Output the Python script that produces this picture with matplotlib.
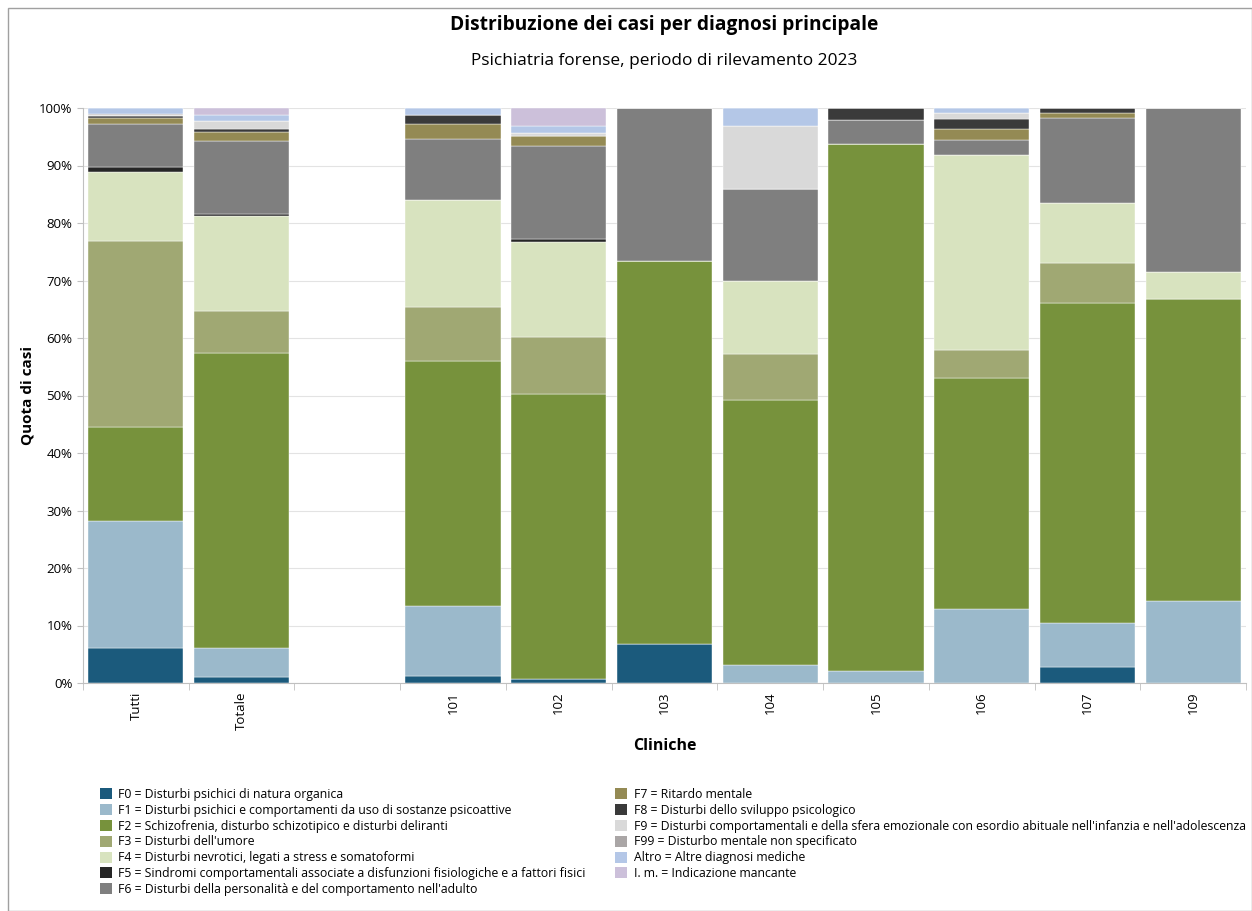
import matplotlib
matplotlib.use("Agg")
import matplotlib.pyplot as plt
from matplotlib.patches import Patch, Rectangle
from matplotlib.ticker import PercentFormatter, MultipleLocator, FixedLocator

plt.rcParams['font.family'] = ['Open Sans', 'DejaVu Sans']

categories = ["Tutti", "Totale", "", "101", "102", "103", "104", "105", "106", "107", "109"]

# quota di casi (%) per diagnosi, una voce per clinica
F0 = [6.1, 1.0, 0, 1.3, 0.7, 6.7, 0, 0, 0, 2.7, 0]
F1 = [22.1, 5.1, 0, 12.1, 0, 0, 3.2, 2.1, 12.9, 7.7, 14.3]
F2 = [16.3, 51.3, 0, 42.6, 49.6, 66.7, 46.0, 91.6, 40.1, 55.7, 52.4]
F3 = [32.4, 7.3, 0, 9.4, 9.9, 0, 8.0, 0, 4.9, 6.9, 0]
F4 = [11.9, 16.5, 0, 18.6, 16.5, 0, 12.7, 0, 33.9, 10.5, 4.8]
F5 = [1.0, 0.3, 0, 0, 0.5, 0, 0, 0, 0, 0, 0]
F6 = [7.4, 12.8, 0, 10.6, 16.2, 26.6, 16.0, 4.2, 2.6, 14.8, 28.5]
F7 = [1.0, 1.5, 0, 2.7, 1.7, 0, 0, 0, 1.9, 0.9, 0]
F8 = [0.4, 0.6, 0, 1.4, 0, 0, 0, 2.1, 1.8, 0.8, 0]
F9 = [0.2, 1.4, 0, 0, 0.6, 0, 11.0, 0, 1.1, 0, 0]
F99 = [0.2, 0, 0, 0, 0, 0, 0, 0, 0, 0, 0]
Altro = [1.0, 1.0, 0, 1.3, 1.1, 0, 3.1, 0, 0.8, 0, 0]
Im = [0, 1.2, 0, 0, 3.2, 0, 0, 0, 0, 0, 0]

series = [F0, F1, F2, F3, F4, F5, F6, F7, F8, F9, F99, Altro, Im]
labels = [
    "F0 = Disturbi psichici di natura organica",
    "F1 = Disturbi psichici e comportamenti da uso di sostanze psicoattive",
    "F2 = Schizofrenia, disturbo schizotipico e disturbi deliranti",
    "F3 = Disturbi dell'umore",
    "F4 = Disturbi nevrotici, legati a stress e somatoformi",
    "F5 = Sindromi comportamentali associate a disfunzioni fisiologiche e a fattori fisici",
    "F6 = Disturbi della personalità e del comportamento nell'adulto",
    "F7 = Ritardo mentale",
    "F8 = Disturbi dello sviluppo psicologico",
    "F9 = Disturbi comportamentali e della sfera emozionale con esordio abituale nell'infanzia e nell'adolescenza",
    "F99 = Disturbo mentale non specificato",
    "Altro = Altre diagnosi mediche",
    "I. m. = Indicazione mancante",
]
colors = ["#1b5a7c", "#9bb9cb", "#77923c", "#a0a873", "#d8e3bf", "#262626", "#7f7f7f",
          "#948a54", "#3a3a3a", "#d9d9d9", "#aaa6a6", "#b4c7e7", "#ccc0da"]

fig = plt.figure(figsize=(12.52, 9.11), dpi=100)
ax = fig.add_axes([83 / 1252, 1 - 683 / 911, (1246 - 83) / 1252, (683 - 108) / 911])

x = list(range(len(categories)))
bottom = [0.0] * len(categories)
for vals, col in zip(series, colors):
    ax.bar(x, vals, bottom=bottom, width=0.9, color=col, edgecolor="#ffffff", linewidth=0.3)
    bottom = [b + v for b, v in zip(bottom, vals)]

ax.set_xlim(-0.5, len(categories) - 0.5)
ax.set_ylim(0, 100)
ax.yaxis.set_major_locator(MultipleLocator(10))
ax.yaxis.set_major_formatter(PercentFormatter(decimals=0))
ax.set_xticks(x)
ax.set_xticklabels(categories, rotation=90, fontsize=9.5)
ax.xaxis.set_minor_locator(FixedLocator([i - 0.5 for i in range(len(categories) + 1)]))
ax.tick_params(axis="x", which="major", length=0, pad=6)
ax.tick_params(axis="x", which="minor", length=5, color="#c0c0c0")
ax.tick_params(axis="y", length=4, color="#c0c0c0", labelsize=9.5)
ax.grid(axis="y", color="#e3e3e3", linewidth=0.8)
ax.set_axisbelow(True)
for s in ["top", "right"]:
    ax.spines[s].set_visible(False)
for s in ["left", "bottom"]:
    ax.spines[s].set_color("#c0c0c0")

fig.text(0.5307, 1 - 25 / 911, "Distribuzione dei casi per diagnosi principale",
         ha="center", va="center", fontsize=13.8, fontweight="bold")
fig.text(0.5307, 1 - 61 / 911, "Psichiatria forense, periodo di rilevamento 2023",
         ha="center", va="center", fontsize=12.4)
fig.text(28 / 1252, 1 - 395 / 911, "Quota di casi", rotation=90,
         ha="center", va="center", fontsize=11, fontweight="bold")
fig.text(0.5307, 1 - 746 / 911, "Cliniche", ha="center", va="center",
         fontsize=11.5, fontweight="bold")

handles = [Patch(facecolor=c, edgecolor="none") for c in colors]
fig.legend(handles, labels, loc="upper left", bbox_to_anchor=(100 / 1252, 1 - 788 / 911),
           ncol=2, frameon=False, fontsize=8.8, handlelength=1.0, handleheight=1.0,
           handletextpad=0.5, labelspacing=0.23, columnspacing=2.4, borderpad=0, borderaxespad=0)

fig.patches.append(Rectangle((8 / 1252, 0), 1 - 8 / 1252, 1 - 8 / 911, transform=fig.transFigure,
                             fill=False, edgecolor="#a0a0a0", linewidth=1))

fig.savefig("out.png", dpi=100)
